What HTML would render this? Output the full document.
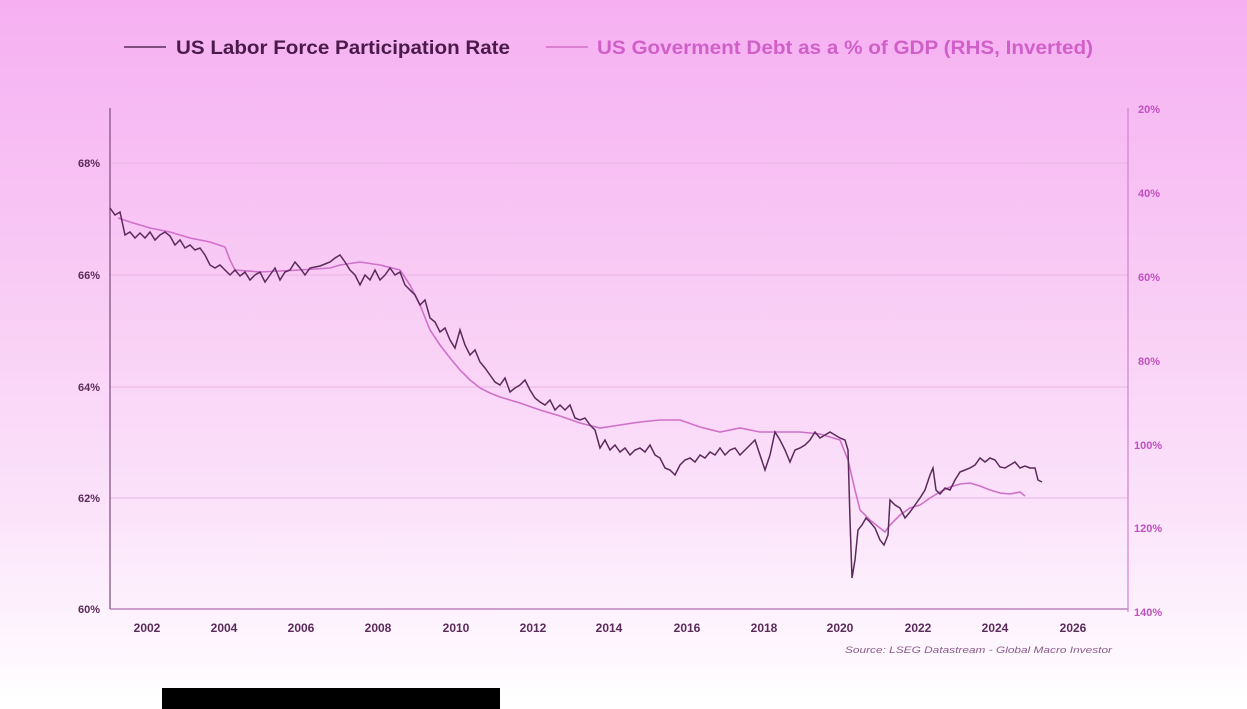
<!DOCTYPE html>
<html><head><meta charset="utf-8"><style>
html,body{margin:0;padding:0;width:1247px;height:709px;overflow:hidden;}
body{background:linear-gradient(to bottom,#f6b0f2 0px,#f8c8f4 250px,#fbe2fa 500px,#fef8fe 660px,#ffffff 700px);font-family:"Liberation Sans",Arial,sans-serif;}
svg{position:absolute;left:0;top:0}
</style></head><body>
<svg width="1247" height="709" viewBox="0 0 1247 709">
<g stroke="#eab4e6" stroke-width="1">
<line x1="110" y1="163" x2="1128" y2="163"/>
<line x1="110" y1="275" x2="1128" y2="275"/>
<line x1="110" y1="387" x2="1128" y2="387"/>
<line x1="110" y1="498" x2="1128" y2="498"/>
</g>
<line x1="110" y1="108" x2="110" y2="609" stroke="#7a4a7a" stroke-width="1.2"/>
<line x1="110" y1="609" x2="1128" y2="609" stroke="#b070b0" stroke-width="1.2"/>
<line x1="1128" y1="108" x2="1128" y2="612" stroke="#d080d0" stroke-width="1.2"/>
<g fill="#5a2a5a" font-size="11" font-weight="bold" text-anchor="end">
<text x="100" y="167">68%</text><text x="100" y="279">66%</text><text x="100" y="391">64%</text><text x="100" y="502">62%</text><text x="100" y="613">60%</text>
</g>
<g fill="#c050c0" font-size="11" font-weight="bold">
<text x="1138" y="113">20%</text><text x="1138" y="197">40%</text><text x="1138" y="281">60%</text><text x="1138" y="365">80%</text><text x="1134" y="449">100%</text><text x="1134" y="532">120%</text><text x="1134" y="616">140%</text>
</g>
<g fill="#5a2a5a" font-size="12" font-weight="bold" text-anchor="middle">
<text x="147" y="632">2002</text><text x="224" y="632">2004</text><text x="301" y="632">2006</text><text x="378" y="632">2008</text><text x="456" y="632">2010</text><text x="533" y="632">2012</text><text x="609" y="632">2014</text><text x="687" y="632">2016</text><text x="764" y="632">2018</text><text x="840" y="632">2020</text><text x="918" y="632">2022</text><text x="995" y="632">2024</text><text x="1073" y="632">2026</text>
</g>
<text x="845" y="653" fill="#8a5a8a" font-size="9.5" font-style="italic" textLength="267" lengthAdjust="spacingAndGlyphs">Source: LSEG Datastream - Global Macro Investor</text>
<line x1="124" y1="47" x2="166" y2="47" stroke="#5a2a5a" stroke-width="1.5"/>
<text x="176" y="54" fill="#4a1a4a" font-size="19" font-weight="bold" textLength="334" lengthAdjust="spacingAndGlyphs">US Labor Force Participation Rate</text>
<line x1="546" y1="47" x2="588" y2="47" stroke="#d070c8" stroke-width="1.5"/>
<text x="597" y="54" fill="#d060c8" font-size="19" font-weight="bold" textLength="496" lengthAdjust="spacingAndGlyphs">US Goverment Debt as a % of GDP (RHS, Inverted)</text>
<polyline fill="none" stroke="#d070c8" stroke-width="1.6" points="118,218 130,222 150,228 170,232 190,238 210,242 225,247 230,260 235,270 260,272 300,270 330,268 340,265 360,262 380,265 400,270 410,285 420,305 430,330 440,345 450,358 460,370 470,380 480,388 490,393 500,397 520,403 540,410 560,416 580,423 600,428 620,425 640,422 660,420 680,420 700,427 720,432 740,428 760,432 780,432 800,432 820,434 840,440 848,460 855,490 860,510 870,520 880,528 885,532 890,525 900,515 910,508 920,505 930,498 940,492 950,487 960,484 970,483 980,486 990,490 1000,493 1010,494 1020,492 1025,496"/>
<polyline fill="none" stroke="#5a2a5a" stroke-width="1.5" points="110,208 115,215 120,212 125,235 130,232 135,238 140,233 145,238 150,232 155,240 160,235 165,232 170,236 175,245 180,240 185,248 190,245 195,250 200,248 205,255 210,265 215,268 220,265 225,270 230,275 235,270 240,276 245,272 250,280 255,275 260,272 265,282 270,275 275,268 280,280 285,272 290,270 295,262 300,268 305,275 310,268 315,267 320,266 325,264 330,262 335,258 340,255 345,262 350,270 355,275 360,285 365,275 370,280 375,270 380,280 385,275 390,268 395,275 400,272 405,285 410,290 415,295 420,305 425,300 430,318 435,322 440,332 445,328 450,340 455,348 460,330 465,345 470,355 475,350 480,362 485,368 490,375 495,382 500,385 505,378 510,392 515,388 520,385 525,380 530,390 535,398 540,402 545,405 550,400 555,410 560,405 565,410 570,405 575,418 580,420 585,418 590,425 595,430 600,448 605,440 610,450 615,445 620,452 625,448 630,455 635,450 640,448 645,452 650,445 655,455 660,458 665,468 670,470 675,475 680,465 685,460 690,458 695,462 700,455 705,458 710,452 715,455 720,448 725,455 730,450 735,448 740,455 745,450 750,445 755,440 760,455 765,470 770,455 775,432 780,440 785,450 790,462 795,450 800,448 805,445 810,440 815,432 820,438 825,435 830,432 835,435 840,438 845,440 848,450 850,520 852,578 855,560 858,530 862,525 866,518 870,522 875,528 880,540 884,545 888,535 890,500 895,505 900,508 905,518 910,512 915,505 920,498 925,490 930,475 933,468 936,490 940,494 945,488 950,490 955,480 960,472 965,470 970,468 975,465 980,458 985,462 990,458 995,460 1000,467 1005,468 1010,465 1015,462 1020,468 1025,466 1030,468 1035,468 1038,480 1042,482"/>
<rect x="162" y="688" width="338" height="21" fill="#000"/>
</svg>
</body></html>
